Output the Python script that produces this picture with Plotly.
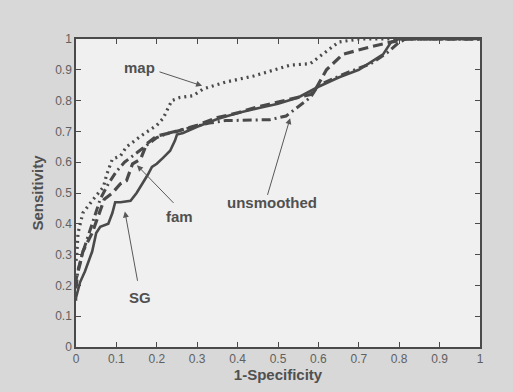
import plotly.graph_objects as go

# ---- data ----
map_x = [0, 0.002, 0.005, 0.017, 0.043, 0.068, 0.076, 0.09, 0.11, 0.125, 0.166, 0.20, 0.216, 0.225, 0.237,
         0.257, 0.29, 0.315, 0.37, 0.44, 0.50, 0.53, 0.58, 0.61, 0.65, 0.70, 1.0]
map_y = [0.28, 0.30, 0.37, 0.435, 0.48, 0.52, 0.56, 0.61, 0.62, 0.65, 0.69, 0.72, 0.743, 0.77, 0.80,
         0.81, 0.816, 0.838, 0.86, 0.88, 0.905, 0.915, 0.92, 0.95, 0.99, 1.0, 1.0]

fam_x = [0, 0.0, 0.01, 0.017, 0.04, 0.055, 0.07, 0.09, 0.11, 0.125, 0.14, 0.16, 0.175, 0.20, 0.25, 0.30,
         0.35, 0.40, 0.45, 0.50, 0.55, 0.58, 0.59, 0.62, 0.66, 0.73, 0.78, 0.82, 1.0]
fam_y = [0.20, 0.22, 0.27, 0.31, 0.37, 0.425, 0.48, 0.50, 0.53, 0.54, 0.595, 0.61, 0.66, 0.685, 0.70, 0.72,
         0.745, 0.76, 0.78, 0.795, 0.81, 0.82, 0.83, 0.90, 0.95, 0.975, 0.99, 1.0, 1.0]

uns_x = [0, 0.005, 0.015, 0.03, 0.045, 0.06, 0.08, 0.10, 0.12, 0.15, 0.18, 0.20, 0.23, 0.26, 0.33, 0.37,
         0.48, 0.52, 0.55, 0.58, 0.60, 0.67, 0.73, 0.77, 0.80, 0.82, 1.0]
uns_y = [0.19, 0.25, 0.30, 0.36, 0.42, 0.48, 0.53, 0.57, 0.60, 0.63, 0.66, 0.68, 0.695, 0.705, 0.727, 0.735,
         0.738, 0.75, 0.78, 0.81, 0.85, 0.89, 0.92, 0.955, 0.99, 1.0, 1.0]

sg_x = [0, 0.0, 0.01, 0.022, 0.04, 0.05, 0.06, 0.08, 0.09, 0.097, 0.11, 0.135, 0.15, 0.165, 0.178, 0.188,
        0.20, 0.216, 0.233, 0.245, 0.25, 0.265, 0.30, 0.35, 0.40, 0.45, 0.50, 0.55, 0.60, 0.65, 0.70,
        0.76, 0.78, 0.80, 1.0]
sg_y = [0.15, 0.16, 0.21, 0.245, 0.31, 0.37, 0.39, 0.40, 0.435, 0.47, 0.47, 0.475, 0.50, 0.53, 0.56, 0.585,
        0.595, 0.615, 0.637, 0.67, 0.69, 0.695, 0.715, 0.74, 0.76, 0.775, 0.79, 0.81, 0.845, 0.875, 0.90,
        0.95, 0.99, 1.0, 1.0]

tick_vals = [0, 0.1, 0.2, 0.3, 0.4, 0.5, 0.6, 0.7, 0.8, 0.9, 1]
tick_text = ["0", "0.1", "0.2", "0.3", "0.4", "0.5", "0.6", "0.7", "0.8", "0.9", "1"]

# labels: text, text position, arrow head, arrow tail
label_names = ["map", "fam", "unsmoothed", "SG"]
label_pos = [(0.158, 0.907), (0.257, 0.425), (0.485, 0.47), (0.158, 0.16)]
arrow_head = [(0.312, 0.848), (0.151, 0.59), (0.53, 0.743), (0.121, 0.44)]
arrow_tail = [(0.203, 0.895), (0.245, 0.463), (0.473, 0.489), (0.153, 0.21)]

LINE = "#4a4a4a"
TXT = "#505050"
FONT = "Liberation Sans, Arial"
fig = go.Figure()
fig.add_trace(go.Scatter(x=uns_x, y=uns_y, mode="lines",
                         line=dict(color=LINE, width=3, dash="9px,4px,2px,4px")))
fig.add_trace(go.Scatter(x=fam_x, y=fam_y, mode="lines",
                         line=dict(color=LINE, width=3.2, dash="10px,5px")))
fig.add_trace(go.Scatter(x=map_x, y=map_y, mode="lines",
                         line=dict(color=LINE, width=3.2, dash="2px,4px")))
fig.add_trace(go.Scatter(x=sg_x, y=sg_y, mode="lines",
                         line=dict(color=LINE, width=2.6)))

annotations = []
for name, (tx, ty), (hx, hy), (sx, sy) in zip(label_names, label_pos, arrow_head, arrow_tail):
    annotations.append(dict(x=tx, y=ty, xref="x", yref="y", text="<b>" + name + "</b>", showarrow=False,
                            font=dict(family=FONT, size=15, color=TXT)))
    annotations.append(dict(x=hx, y=hy, xref="x", yref="y", ax=sx, ay=sy, axref="x", ayref="y",
                            text="", showarrow=True, arrowhead=2, arrowsize=1.2, arrowwidth=1,
                            arrowcolor="#585858"))

axis_common = dict(range=[0, 1], tickvals=tick_vals, ticktext=tick_text, ticks="inside", ticklen=5,
                   tickcolor="#4a4a4a", tickwidth=1, showline=True, linecolor="#4a4a4a", linewidth=1.5,
                   mirror="ticks", showgrid=False, zeroline=False,
                   tickfont=dict(family=FONT, size=12, color="#606060"))

fig.update_layout(
    width=513, height=392,
    margin=dict(l=76, r=33, t=39, b=38),
    paper_bgcolor="#d8d8d8", plot_bgcolor="#f0f0f0",
    showlegend=False,
    annotations=annotations,
    xaxis=dict(**axis_common,
               title=dict(text="<b>1-Specificity</b>", standoff=3,
                          font=dict(family=FONT, size=15, color=TXT))),
    yaxis=dict(**axis_common,
               title=dict(text="<b>Sensitivity</b>", standoff=8,
                          font=dict(family=FONT, size=15, color=TXT))),
)

fig.write_html("out.html")
